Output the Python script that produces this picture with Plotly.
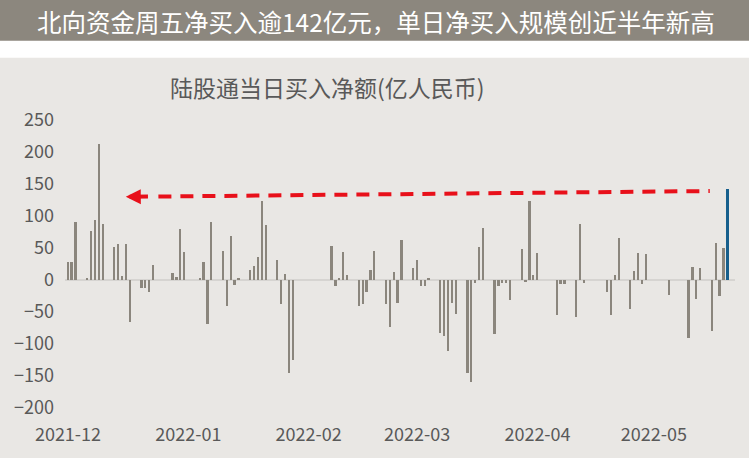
import plotly.graph_objects as go
import pandas as pd

# ---- data ----
dates = [
    "2021-12-01", "2021-12-02", "2021-12-03", "2021-12-06", "2021-12-07", "2021-12-08", "2021-12-09",
    "2021-12-10", "2021-12-13", "2021-12-14", "2021-12-15", "2021-12-16", "2021-12-17", "2021-12-20",
    "2021-12-21", "2021-12-22", "2021-12-23", "2021-12-28", "2021-12-29", "2021-12-30", "2021-12-31",
    "2022-01-04", "2022-01-05", "2022-01-06", "2022-01-07", "2022-01-10", "2022-01-11", "2022-01-12",
    "2022-01-13", "2022-01-14", "2022-01-17", "2022-01-18", "2022-01-19", "2022-01-20", "2022-01-21",
    "2022-01-24", "2022-01-25", "2022-01-26", "2022-01-27", "2022-01-28",
    "2022-02-07", "2022-02-08", "2022-02-09", "2022-02-10", "2022-02-11", "2022-02-14", "2022-02-15",
    "2022-02-16", "2022-02-17", "2022-02-18", "2022-02-21", "2022-02-22", "2022-02-23", "2022-02-24",
    "2022-02-25", "2022-02-28",
    "2022-03-01", "2022-03-02", "2022-03-03", "2022-03-04", "2022-03-07", "2022-03-08", "2022-03-09",
    "2022-03-10", "2022-03-11", "2022-03-14", "2022-03-15", "2022-03-16", "2022-03-17", "2022-03-18",
    "2022-03-21", "2022-03-22", "2022-03-23", "2022-03-24", "2022-03-25", "2022-03-28", "2022-03-29",
    "2022-03-30", "2022-03-31",
    "2022-04-01", "2022-04-06", "2022-04-07", "2022-04-08", "2022-04-11", "2022-04-12", "2022-04-13",
    "2022-04-19", "2022-04-20", "2022-04-21", "2022-04-22", "2022-04-25", "2022-04-26", "2022-04-27",
    "2022-04-28", "2022-04-29",
    "2022-05-05", "2022-05-10", "2022-05-11", "2022-05-12", "2022-05-13", "2022-05-16", "2022-05-17",
    "2022-05-18", "2022-05-19", "2022-05-20",
]
net_buy = [
    28, 28, 90, 2, 77, 94, 213,
    88, 51, 57, 6, 57, -66, -12,
    -12, -18, 23, 11, 5, 79, 44,
    3, 28, -68, 91, 45, -41, 68,
    -8, 2, 15, 22, 36, 124, 86,
    32, -37, 9, -146, -125,
    53, -10, 3, 43, 8, -40, -37,
    -18, 15, 46, -37, -73, 13, -36,
    62, 19,
    31, -9, -9, 3, -83, -87, -111,
    -36, -53, -145, -160, -4, 51, 81,
    -85, -10, -5, -5, -32, 48, -3,
    124, 8,
    42, -54, -6, -6, -58, 88, -4,
    -19, -54, 8, 65, -46, 14, 42,
    -7, 40,
    -24, -90, 21, -29, 19, -80, 58,
    -25, 50, 142,
]
y_tick_vals = [250, 200, 150, 100, 50, 0, -50, -100, -150, -200]
x_tick_vals = ["2021-12-01", "2022-01-01", "2022-02-01", "2022-03-01", "2022-04-01", "2022-05-01"]
x_tick_text = ["2021-12", "2022-01", "2022-02", "2022-03", "2022-04", "2022-05"]

title_text = "北向资金周五净买入逾142亿元，单日净买入规模创近半年新高"
chart_title = "陆股通当日买入净额(亿人民币)"

# ---- styling ----
W, H = 749, 458
M_L, M_R, M_T, M_B = 65, 14, 120, 47
GREY_BAR = "#8b867d"
BLUE_BAR = "#175f8c"
BG = "#e9e7e4"
HEADER = "#8c877e"
TXT = "#595959"
RED = "#e8101a"
FONT = "Noto Sans CJK SC"
DAY_MS = 86400000

n = len(dates)
colors = [GREY_BAR] * (n - 1) + [BLUE_BAR]
widths = [0.45 * DAY_MS] * (n - 1) + [0.72 * DAY_MS]

plot_h = H - M_T - M_B


def py(pix):
    """pixel row (from top of figure) -> paper y"""
    return (H - M_B - pix) / plot_h


fig = go.Figure()
fig.add_trace(go.Bar(
    x=pd.to_datetime(dates), y=net_buy,
    marker=dict(color=colors, line=dict(width=0)),
    width=widths, showlegend=False,
))

last_date = pd.Timestamp(dates[-1])
first_date = pd.Timestamp(dates[0])

# dashed red arrow pointing back to the earlier high
arrow_tip_x = first_date + pd.Timedelta(hours=14.9 * 24)
shaft_x = first_date + pd.Timedelta(hours=21.0 * 24)
dash_start_x = first_date + pd.Timedelta(hours=23.3 * 24)
dash_end_x = last_date - pd.Timedelta(hours=4.6 * 24)
y_left, y_right = 130.0, 139.0

fig.add_shape(type="line", xref="x", yref="y",
              x0=dash_start_x, y0=y_left + 0.4, x1=dash_end_x, y1=y_right,
              line=dict(color=RED, width=4, dash="13px,9px"))
fig.add_annotation(x=arrow_tip_x, y=y_left, ax=shaft_x, ay=y_left + 0.3,
                   xref="x", yref="y", axref="x", ayref="y",
                   text="", showarrow=True, arrowhead=2, arrowsize=0.75,
                   arrowwidth=4, arrowcolor=RED, standoff=0, startstandoff=0)

# header bar + white gap + grey chart panel
fig.add_shape(type="rect", xref="paper", yref="paper", x0=-1, x1=2,
              y0=py(470), y1=py(57), fillcolor=BG, line=dict(width=0), layer="below")
fig.add_shape(type="rect", xref="paper", yref="paper", x0=-1, x1=2,
              y0=py(40), y1=py(-5), fillcolor=HEADER, line=dict(width=0), layer="below")

fig.add_annotation(text=title_text, xref="paper", yref="paper",
                   x=(375.5 - M_L) / (W - M_L - M_R), y=py(20),
                   showarrow=False, xanchor="center", yanchor="middle",
                   font=dict(family=FONT, size=24.5, color="white"))
fig.add_annotation(text=chart_title, xref="paper", yref="paper",
                   x=(327.5 - M_L) / (W - M_L - M_R), y=py(87),
                   showarrow=False, xanchor="center", yanchor="middle",
                   font=dict(family=FONT, size=23, color=TXT))

fig.update_layout(
    width=W, height=H,
    margin=dict(l=M_L, r=M_R, t=M_T, b=M_B),
    paper_bgcolor="white", plot_bgcolor="rgba(0,0,0,0)",
    font=dict(family=FONT, color=TXT),
    bargap=0,
)
fig.update_xaxes(
    type="date",
    range=[first_date - pd.Timedelta(hours=0.77 * 24), first_date + pd.Timedelta(hours=171.9 * 24)],
    tickvals=pd.to_datetime(x_tick_vals), ticktext=x_tick_text,
    showgrid=False, showline=False, zeroline=False, ticks="",
    tickfont=dict(family=FONT, size=18, color=TXT),
    ticklabelstandoff=14,
)
fig.update_yaxes(
    range=[-200, 250], tickvals=y_tick_vals,
    showgrid=False, showline=False, ticks="",
    zeroline=True, zerolinecolor="#d6d4d1", zerolinewidth=2,
    tickfont=dict(family=FONT, size=18, color=TXT),
    ticklabelstandoff=10,
)

fig.write_html(
    "out.html",
    config={"displayModeBar": False},
    post_script="document.body.style.margin='0';document.body.style.padding='0';"
                "document.body.style.overflow='hidden';",
)
